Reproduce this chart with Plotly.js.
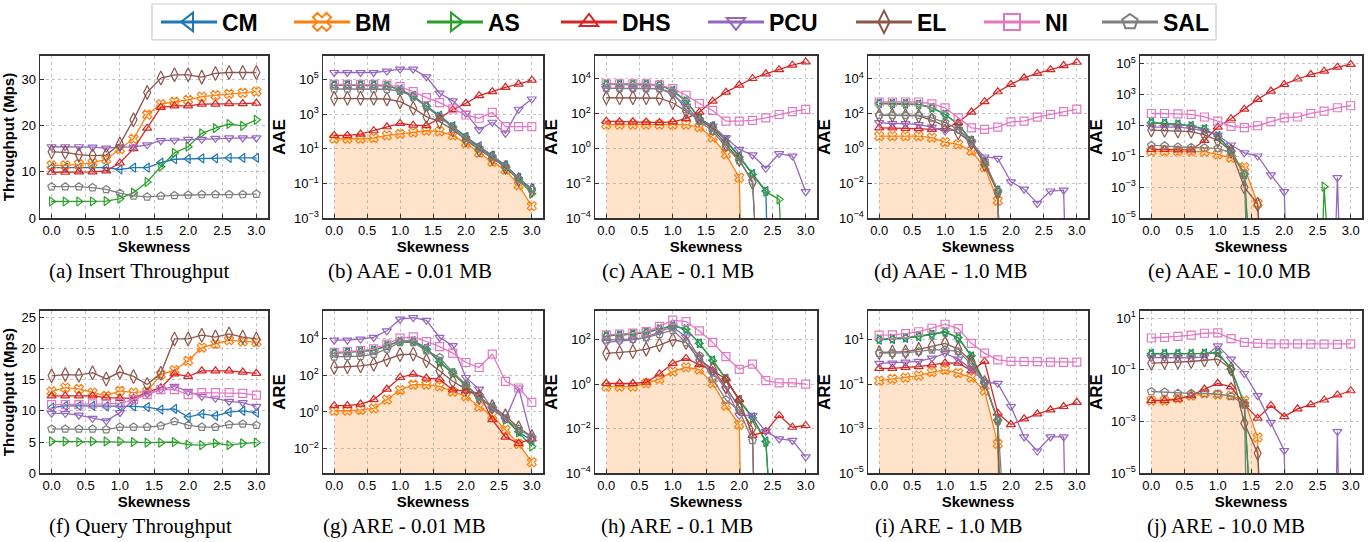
<!DOCTYPE html>
<html>
<head>
<meta charset="utf-8">
<script src="https://cdn.plot.ly/plotly-3.0.1.min.js"></script>
<style>html,body{margin:0;padding:0;background:#fff;}#chart{width:1372px;height:542px;}</style>
</head>
<body>
<div id="chart"></div>
<script>
// ---------------- DATA ----------------
const SKEW = [0.0,0.2,0.4,0.6,0.8,1.0,1.2,1.4,1.6,1.8,2.0,2.2,2.4,2.6,2.8,3.0];
const X_TICKS = [0.0,0.5,1.0,1.5,2.0,2.5,3.0];
const METHODS = ['CM','BM','AS','DHS','PCU','EL','NI','SAL'];

// (a) Insert Throughput (Mps)
const CM_a  = [10.9,10.9,10.9,10.9,10.9,10.5,10.9,10.9,12.0,12.7,12.8,12.9,12.9,13.0,13.0,13.0];
const BM_a  = [11.4,11.4,11.6,11.9,12.7,14.9,17.1,22.3,24.6,25.1,25.5,26.2,26.5,26.8,27.0,27.3];
const AS_a  = [3.6,3.6,3.6,3.6,3.7,4.2,5.5,7.8,11.1,14.1,15.4,18.3,19.4,20.3,19.9,21.2];
const DHS_a = [9.9,9.9,10.0,10.0,10.2,11.9,15.0,19.4,23.9,24.2,24.2,24.6,24.6,24.7,24.7,24.8];
const PCU_a = [15.4,15.4,15.4,15.3,15.1,15.3,15.3,15.8,16.7,16.8,17.0,17.0,17.2,17.3,17.3,17.3];
const EL_a  = [14.3,14.2,13.7,13.5,13.6,16.0,21.2,27.1,30.2,30.9,30.9,30.4,31.2,31.4,31.4,31.4];
const SAL_a = [6.8,6.8,6.8,6.6,6.2,5.4,4.8,4.6,4.8,4.9,5.0,5.1,5.1,5.1,5.1,5.2];

// (b) AAE - 0.01 MB
const CM_b  = [4.7e4,4.7e4,4.7e4,4.7e4,4.3e4,2.7e4,1.15e4,2.95e3,830,200,49,13.8,4.0,1.12,0.21,0.049];
const BM_b  = [38,38,38,42,59,72,87,110,100,59,21,5.8,1.74,0.63,0.079,0.005];
const AS_b  = [4.7e4,4.7e4,4.7e4,4.7e4,4.5e4,2.45e4,1.0e4,2.7e3,720,178,42,11,3.4,0.89,0.17,0.026];
const DHS_b = [59,59,71,110,186,288,229,219,575,1.8e3,4.2e3,1.15e4,1.95e4,3.5e4,5.4e4,9.1e4];
const PCU_b = [2.5e5,2.5e5,2.5e5,2.5e5,3.0e5,3.9e5,3.9e5,1.4e5,1.6e4,5.8e3,1.1e3,126,340,79,1.9e3,7.4e3];
const EL_b  = [8.1e3,8.1e3,8.1e3,8.1e3,7.4e3,5.2e3,2.2e3,720,370,126,33,8.9,2.95,0.85,0.17,0.041];
const NI_b  = [5.1e4,5.1e4,5.1e4,5.1e4,4.7e4,3.8e4,1.95e4,8.9e3,4.6e3,2.0e3,890,575,1.26e3,190,190,190];
const SAL_b = [2.8e4,2.8e4,2.8e4,2.8e4,2.7e4,2.1e4,1.0e4,2.7e3,720,170,42,11,3.5,0.98,0.18,0.045];

// (c) AAE - 0.1 MB
const CM_c  = [4.6e3,4.6e3,4.6e3,4.6e3,4.4e3,2.0e3,550,51,19,2.9,0.36,0.035,0.0036,0,0,0];
const BM_c  = [23,23,23,23,23,23,23,16.6,4.1,0.46,0.021,0,0,0,0,0];
const AS_c  = [4.6e3,4.6e3,4.6e3,4.6e3,4.4e3,1.9e3,500,51,16.6,2.6,0.32,0.032,0.0033,0.0012,0,0];
const DHS_c = [36,33,33,32,30,33,51,120,500,1.66e3,4.2e3,1.0e4,1.86e4,3.2e4,5.8e4,8.9e4];
const PCU_c = [2.7e3,2.7e3,2.7e3,2.7e3,2.6e3,1.23e3,263,40,19,4.1,0.87,0.42,0.072,0.5,0.36,0.0033];
const EL_c  = [790,790,790,790,740,410,135,46,13.8,1.7,0.23,0.011,0,0,0,0];
const NI_c  = [5.0e3,5.0e3,5.0e3,5.0e3,4.2e3,2.6e3,1.1e3,370,148,36,36,40,56,87,126,170];
const SAL_c = [2.7e3,2.7e3,2.7e3,2.7e3,2.6e3,1.5e3,170,36,9.8,1.2,0.2,0.0135,0,0,0,0];

// (d) AAE - 1.0 MB
const CM_d  = [380,370,365,330,215,90,24,2.8,0.16,0.0038,0,0,0,0,0,0];
const BM_d  = [5.0,5.0,5.0,5.0,4.1,2.3,1.7,0.71,0.085,0.001,0,0,0,0,0,0];
const AS_d  = [370,355,355,324,210,87,23,2.6,0.15,0.0036,0,0,0,0,0,0];
const DHS_d = [15,15,13.8,13.5,12.3,13.8,30,120,470,1.74e3,4.6e3,1.1e4,1.95e4,3.2e4,5.5e4,8.5e4];
const PCU_d = [30,26,26,23,16.6,9.8,12.3,2.1,0.32,0.27,0.012,0.0046,0.0007,0.0036,0.004,0];
const EL_d  = [79,79,76,72,40,19,7.9,2.1,0.12,0.003,0,0,0,0,0,0];
const NI_d  = [450,450,450,450,355,210,56,15,12.3,16.6,33,36,62,87,126,178];
const SAL_d = [79,79,79,79,56,30,12.3,2.6,0.19,0.0036,0,0,0,0,0,0];

// (e) AAE - 10.0 MB
const CM_e  = [14.8,13.5,11.5,9.5,5.8,2.1,0.24,0.0069,0,0,0,0,0,0,0,0];
const BM_e  = [0.22,0.22,0.22,0.22,0.2,0.135,0.081,0.02,9e-5,0,0,0,0,0,0,0];
const AS_e  = [14.8,13.5,11.5,9.1,5.5,2.0,0.22,0.0069,0,0,0,0,0,0.0011,0,0];
const DHS_e = [0.28,0.28,0.26,0.26,1.07,7.8,27,112,480,1.66e3,4.5e3,1.0e4,1.95e4,3.2e4,5.8e4,8.7e4];
const PCU_e = [7.8,7.8,7.8,6.5,4.3,2.4,0.54,0.17,0.105,0.0063,0.00052,0,0,0,0.0042,0];
const EL_e  = [5.0,4.8,4.3,4.0,2.4,1.07,0.22,0.001,8e-5,0,0,0,0,0,0,0];
const NI_e  = [59,59,56,51,35,19,8.7,7.1,9.5,17.4,31,35,59,83,138,186];
const SAL_e = [0.51,0.48,0.4,0.38,0.36,0.33,0.17,0.0069,0,0,0,0,0,0,0,0];

// (f) Query Throughput (Mps)
const CM_f  = [10.5,10.8,10.8,10.8,10.7,10.7,10.7,10.6,10.2,10.3,9.0,9.5,9.2,9.8,10.0,9.7];
const BM_f  = [13.1,13.7,13.5,12.9,12.4,13.2,12.9,13.1,15.8,16.5,18.0,20.1,20.7,21.3,21.1,21.0];
const AS_f  = [5.1,5.1,5.0,5.1,5.1,5.1,5.0,4.9,4.9,5.0,4.6,4.5,4.8,4.5,4.8,4.9];
const DHS_f = [12.4,12.4,12.4,12.4,12.1,12.0,12.0,13.0,13.7,15.9,15.5,16.4,16.4,16.4,16.2,16.0];
const PCU_f = [9.6,9.6,9.3,8.8,8.4,9.7,11.8,12.7,13.4,13.9,13.1,12.3,12.0,11.5,11.3,10.7];
const EL_f  = [15.6,15.8,15.7,16.1,15.1,16.2,15.5,14.2,16.0,21.5,21.5,22.1,21.8,22.3,21.8,21.5];
const NI_f  = [11.0,11.0,11.0,11.1,11.1,11.2,11.8,12.6,13.4,13.4,12.6,12.9,12.9,12.9,12.8,12.5];
const SAL_f = [7.1,7.1,7.1,7.1,7.0,7.4,7.4,7.4,7.6,8.3,7.7,7.4,7.4,7.8,7.9,7.7];

// (g) ARE - 0.01 MB
const CM_g  = [1.55e3,1.7e3,1.9e3,2.2e3,3.9e3,6.8e3,7.0e3,3.0e3,520,130,28,7.0,1.9,0.45,0.085,0.028];
const BM_g  = [1.17,1.17,1.29,1.58,4.7,15.5,30,30,24.5,12.6,7.1,1.95,0.63,0.107,0.0186,0.0019];
const AS_g  = [1.55e3,1.7e3,1.9e3,2.2e3,3.9e3,6.6e3,6.6e3,2.6e3,480,123,26,6.2,1.66,0.39,0.079,0.0135];
const DHS_g = [2.2,2.2,2.7,4.7,17.4,74,112,69,60,15.5,14,10,0.39,0.043,0.02,0.035];
const PCU_g = [7.8e3,7.8e3,8.9e3,1.1e4,2.5e4,1.07e5,1.3e5,9.3e4,1.1e4,3.9e3,74,17.4,1.45,0.42,20,0.035];
const EL_g  = [257,282,316,390,680,1.26e3,1.38e3,590,170,46,17.4,6.2,1.95,0.63,0.14,0.047];
const NI_g  = [1.7e3,1.9e3,2.1e3,2.6e3,4.8e3,1.0e4,1.17e4,6.6e3,3.5e3,1.55e3,480,257,1.38e3,46,20,3.3];
const SAL_g = [980,1.05e3,1.05e3,1.38e3,2.6e3,5.9e3,5.9e3,2.1e3,890,138,32,6.2,1.66,0.42,0.12,0.043];

// (h) ARE - 0.1 MB
const CM_h  = [151,158,178,214,300,427,300,69,12,1.8,0.2,0.033,0.0027,0,0,0];
const BM_h  = [0.79,0.79,0.79,1.1,1.74,3.7,5.8,4.6,1.1,0.11,0.0155,0,0,0,0,0];
const AS_h  = [151,158,178,214,300,427,300,69,11.5,1.74,0.186,0.031,0.0025,0,0,0];
const DHS_h = [1.1,1.1,1.1,1.23,2.9,8.7,14.5,7.6,4.1,1.74,0.2,0.005,0.0076,0.04,0.0117,0.014];
const PCU_h = [76,85,100,126,234,380,135,16.2,3.5,0.62,0.04,0.04,0.0076,0.0035,0.003,0.00054];
const EL_h  = [24.5,27,30,38,58,100,76,12.3,4.9,0.74,0.087,0.011,0,0,0,0];
const NI_h  = [166,178,200,234,400,760,660,250,76,17.4,4.7,8.1,1.45,1.15,1.17,1.02];
const SAL_h = [98,100,107,126,178,270,76,19,1.74,0.2,0.066,0.003,0,0,0,0];

// (i) ARE - 1.0 MB
const CM_i  = [10.0,10.7,12.0,14.0,17.0,22,12.0,1.8,0.11,0.0024,0,0,0,0,0,0];
const BM_i  = [0.145,0.174,0.2,0.245,0.35,0.44,0.32,0.2,0.052,0.00021,0,0,0,0,0,0];
const AS_i  = [10.7,11.2,12.6,14.5,17.8,23,12.6,1.9,0.12,0.0025,0,0,0,0,0,0];
const DHS_i = [0.52,0.52,0.58,0.62,0.74,0.91,0.9,0.41,1.07,0.005,0.00155,0.0028,0.0047,0.0071,0.01,0.0155];
const PCU_i = [0.87,0.89,0.98,1.07,1.5,2.45,1.35,0.49,0.12,0.11,0.01,0.00043,0.0001,0.00043,0.00043,0];
const EL_i  = [2.7,2.8,2.9,3.7,5.2,6.9,3.8,1.07,0.12,0.0025,0,0,0,0,0,0];
const NI_i  = [16.2,16.5,19,23,33,50,32,6.9,2.5,1.26,1.07,1.05,1.05,0.98,0.97,0.98];
const SAL_i = [2.5,2.5,2.6,3.0,3.5,3.55,3.0,0.81,0.12,0.0023,0,0,0,0,0,0];

// (j) ARE - 10.0 MB
const CM_j  = [0.42,0.42,0.42,0.42,0.43,0.45,0.11,0.0048,0,0,0,0,0,0,0,0];
const BM_j  = [0.0065,0.0065,0.0079,0.01,0.0123,0.011,0.01,0.0065,0.000245,0,0,0,0,0,0,0];
const AS_j  = [0.41,0.41,0.41,0.41,0.42,0.47,0.107,0.0048,0,0,0,0,0,0,0,0];
const DHS_j = [0.0065,0.0065,0.0074,0.01,0.018,0.03,0.022,0.0045,0.00135,0.0042,0.00155,0.0031,0.0045,0.0068,0.0107,0.0155];
const PCU_j = [0.3,0.3,0.3,0.29,0.32,0.85,0.26,0.072,0.01,0.00093,0.000076,0,0,0,0.00041,0];
const EL_j  = [0.18,0.195,0.2,0.21,0.24,0.26,0.107,0.00085,0.000059,0,0,0,0,0,0,0];
const NI_j  = [1.7,1.78,1.95,2.2,2.6,2.7,1.62,1.15,1.05,1.0,1.0,1.0,0.99,0.99,0.97,1.0];
const SAL_j = [0.0145,0.0138,0.0123,0.0123,0.0123,0.0117,0.0095,0.0048,0,0,0,0,0,0,0,0];

const CAPTIONS = ['(a) Insert Throughput','(b) AAE - 0.01 MB','(c) AAE - 0.1 MB','(d) AAE - 1.0 MB','(e) AAE - 10.0 MB',
                  '(f) Query Throughput','(g) ARE - 0.01 MB','(h) ARE - 0.1 MB','(i) ARE - 1.0 MB','(j) ARE - 10.0 MB'];
const Y_TITLES = ['Throughput (Mps)','AAE','AAE','AAE','AAE','Throughput (Mps)','ARE','ARE','ARE','ARE'];
const LOG_TICK_EXPS = [null,[-3,-1,1,3,5],[-4,-2,0,2,4],[-4,-2,0,2,4],[-5,-3,-1,1,3,5],
                       null,[-2,0,2,4],[-4,-2,0,2],[-5,-3,-1,1],[-5,-3,-1,1]];
const LIN_TICKS_A = [0,10,20,30];
const LIN_TICKS_F = [0,5,10,15,20,25];

const PANEL_DATA = [
  {CM:CM_a,BM:BM_a,AS:AS_a,DHS:DHS_a,PCU:PCU_a,EL:EL_a,SAL:SAL_a},
  {CM:CM_b,BM:BM_b,AS:AS_b,DHS:DHS_b,PCU:PCU_b,EL:EL_b,NI:NI_b,SAL:SAL_b},
  {CM:CM_c,BM:BM_c,AS:AS_c,DHS:DHS_c,PCU:PCU_c,EL:EL_c,NI:NI_c,SAL:SAL_c},
  {CM:CM_d,BM:BM_d,AS:AS_d,DHS:DHS_d,PCU:PCU_d,EL:EL_d,NI:NI_d,SAL:SAL_d},
  {CM:CM_e,BM:BM_e,AS:AS_e,DHS:DHS_e,PCU:PCU_e,EL:EL_e,NI:NI_e,SAL:SAL_e},
  {CM:CM_f,BM:BM_f,AS:AS_f,DHS:DHS_f,PCU:PCU_f,EL:EL_f,NI:NI_f,SAL:SAL_f},
  {CM:CM_g,BM:BM_g,AS:AS_g,DHS:DHS_g,PCU:PCU_g,EL:EL_g,NI:NI_g,SAL:SAL_g},
  {CM:CM_h,BM:BM_h,AS:AS_h,DHS:DHS_h,PCU:PCU_h,EL:EL_h,NI:NI_h,SAL:SAL_h},
  {CM:CM_i,BM:BM_i,AS:AS_i,DHS:DHS_i,PCU:PCU_i,EL:EL_i,NI:NI_i,SAL:SAL_i},
  {CM:CM_j,BM:BM_j,AS:AS_j,DHS:DHS_j,PCU:PCU_j,EL:EL_j,NI:NI_j,SAL:SAL_j}
];

// ---------------- STYLE / LAYOUT ----------------
const W = 1372, H = 542;
const COLORS = {CM:'#1f77b4',BM:'#ff7f0e',AS:'#2ca02c',DHS:'#d62728',PCU:'#9467bd',EL:'#8c564b',NI:'#e377c2',SAL:'#7f7f7f'};
const SYMBOLS = {CM:'triangle-left-open',BM:'x-open',AS:'triangle-right-open',DHS:'triangle-up-open',
                 PCU:'triangle-down-open',EL:'diamond-tall-open',NI:'square-open',SAL:'pentagon-open'};
const COLS_PX = [[40,268],[323,543],[595,817],[868,1088],[1140,1362]];
const ROWS_PX = [[54,217],[310,473]];
const Y_RANGES = [[0,35],[-3,6.36],[-4,5.3],[-4,5.3],[-5,5.5],[0,26],[-3.32,5.48],[-4,3.3],[-5,2.3],[-5,1.28]];
const CAPTION_X = [139,410,678,950,1229,140,404,677,949,1226];
const CAPTION_Y = [270,526];
const LEGEND_MARKER_X = [181,314,447,581,728,876,1004,1122];

const FONT = 'Liberation Sans, Arial, sans-serif';
const traces = [];
const layout = {
  width: W, height: H,
  margin: {l:0, r:0, t:0, b:0},
  paper_bgcolor: '#ffffff', plot_bgcolor: '#ffffff',
  showlegend: true,
  font: {family: FONT, color: '#000'},
  shapes: [], annotations: []
};

function sup(e){ return '10<sup>' + (e < 0 ? '\u2212' : '') + Math.abs(e) + '</sup>'; }

PANEL_DATA.forEach((series, i) => {
  const s = i === 0 ? '' : String(i + 1);
  const row = i < 5 ? 0 : 1, col = i % 5;
  const isLog = LOG_TICK_EXPS[i] !== null;
  const cx = COLS_PX[col], ry = ROWS_PX[row];

  layout['xaxis' + s] = {
    domain: [cx[0] / W, cx[1] / W], anchor: 'y' + s,
    range: [-0.17, 3.17],
    tickvals: X_TICKS, ticktext: X_TICKS.map(v => v.toFixed(1)),
    ticks: 'inside', ticklen: 4, tickwidth: 1, tickcolor: '#333',
    showline: true, mirror: true, linecolor: '#333', linewidth: 1.5,
    showgrid: true, gridcolor: '#b5b5b5', griddash: 'dot', gridwidth: 0.8,
    zeroline: false,
    tickfont: {family: FONT, size: 13, color: '#000'},
    title: {text: 'Skewness', font: {family: FONT, size: 15, color: '#000', weight: 'bold'}, standoff: 2}
  };
  const ya = {
    domain: [1 - ry[1] / H, 1 - ry[0] / H], anchor: 'x' + s,
    range: Y_RANGES[i],
    ticks: 'inside', ticklen: 4, tickwidth: 1, tickcolor: '#333',
    showline: true, mirror: true, linecolor: '#333', linewidth: 1.5,
    showgrid: true, gridcolor: '#b5b5b5', griddash: 'dot', gridwidth: 0.8,
    zeroline: false,
    tickfont: {family: FONT, size: 13, color: '#000'},
    title: {text: Y_TITLES[i], font: {family: FONT, size: isLog ? 17 : 15, color: '#000', weight: 'bold'}, standoff: 4}
  };
  if (isLog) {
    ya.type = 'log';
    ya.tickvals = LOG_TICK_EXPS[i].map(e => Math.pow(10, e));
    ya.ticktext = LOG_TICK_EXPS[i].map(sup);
  } else {
    ya.type = 'linear';
    ya.tickvals = i === 0 ? LIN_TICKS_A : LIN_TICKS_F;
  }
  layout['yaxis' + s] = ya;

  const toPlot = arr => isLog ? arr.map(v => v > 0 ? v : 1e-30) : arr;

  // shaded area below BM on error panels
  if (isLog && series.BM) {
    traces.push({
      x: SKEW, y: toPlot(series.BM), xaxis: 'x' + s, yaxis: 'y' + s,
      mode: 'none', fill: 'tozeroy', fillcolor: 'rgba(255,127,14,0.22)',
      showlegend: false, hoverinfo: 'skip'
    });
  }
  METHODS.forEach(m => {
    if (!series[m]) return;
    traces.push({
      x: SKEW, y: toPlot(series[m]), xaxis: 'x' + s, yaxis: 'y' + s,
      mode: 'lines+markers', name: m, showlegend: false,
      line: {color: COLORS[m], width: 1.3},
      marker: {symbol: SYMBOLS[m], size: m === 'EL' ? 10 : 8, color: COLORS[m], line: {color: COLORS[m], width: 1.2}},
      cliponaxis: true
    });
  });

  layout.annotations.push({
    xref: 'paper', yref: 'paper', x: CAPTION_X[i] / W, y: 1 - CAPTION_Y[row] / H,
    xanchor: 'center', yanchor: 'middle', showarrow: false,
    text: CAPTIONS[i], font: {family: 'Liberation Serif, Times New Roman, serif', size: 21, color: '#000'}
  });
});

// legend: one entry per legend box so entries sit where the reference has them
METHODS.forEach((m, k) => {
  const lname = k === 0 ? 'legend' : 'legend' + (k + 1);
  traces.push({
    x: [null], y: [null], xaxis: 'x', yaxis: 'y',
    mode: 'lines+markers', name: m, legend: lname, showlegend: true,
    line: {color: COLORS[m], width: 3},
    marker: {symbol: SYMBOLS[m], size: 16, color: COLORS[m], line: {color: COLORS[m], width: 2}}
  });
  layout[lname] = {
    x: (LEGEND_MARKER_X[k] - 25) / W, y: 1 - 20 / H, xanchor: 'left', yanchor: 'middle',
    orientation: 'h', bgcolor: 'rgba(0,0,0,0)', borderwidth: 0, itemwidth: 56,
    font: {family: FONT, size: 23, color: '#000', weight: 'bold'}
  };
});

layout.shapes.push({
  type: 'rect', xref: 'paper', yref: 'paper',
  x0: 152 / W, x1: 1216 / W, y0: 1 - 38 / H, y1: 1 - 2 / H,
  line: {color: '#cccccc', width: 1.2}, fillcolor: 'rgba(255,255,255,0)'
});

Plotly.newPlot('chart', traces, layout, {displayModeBar: false, staticPlot: true});
</script>
</body>
</html>
